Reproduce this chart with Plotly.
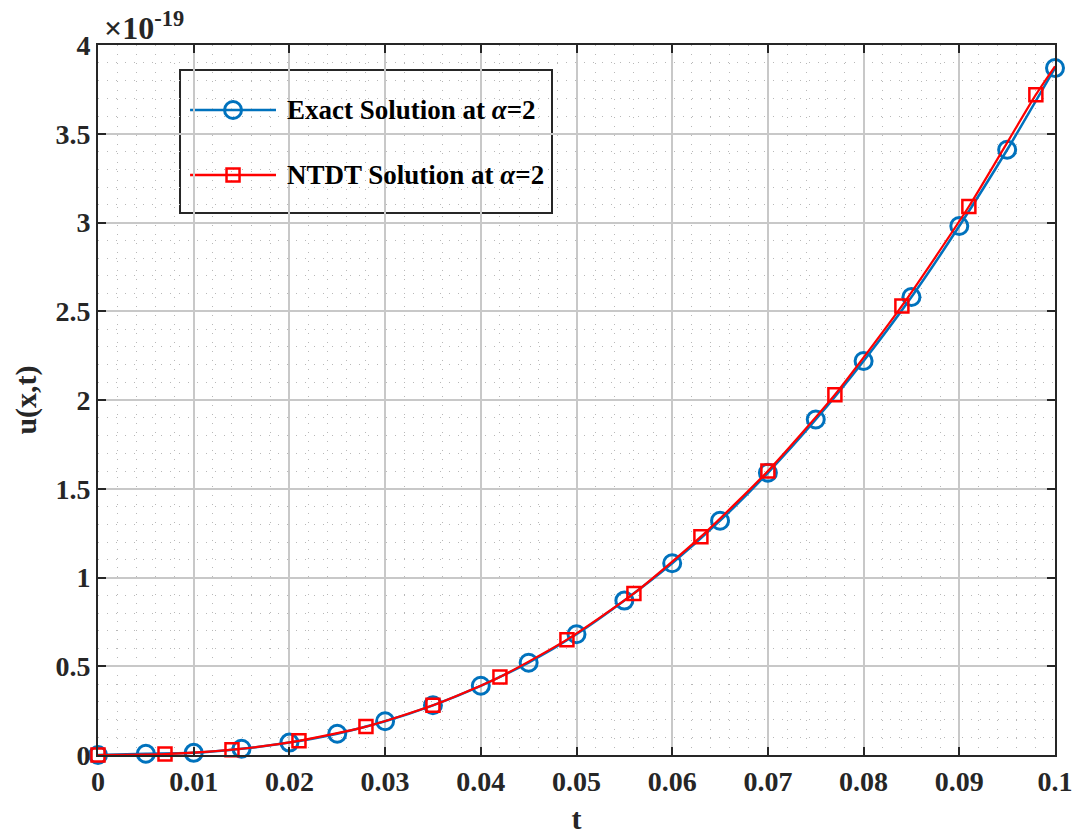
import plotly.graph_objects as go

# Exact solution samples (u in units of 1e-19)
t_exact = [0, 0.005, 0.01, 0.015, 0.02, 0.025, 0.03, 0.035, 0.04, 0.045, 0.05,
           0.055, 0.06, 0.065, 0.07, 0.075, 0.08, 0.085, 0.09, 0.095, 0.1]
u_exact = [0, 0.007, 0.012, 0.035, 0.07, 0.12, 0.19, 0.28, 0.39, 0.52, 0.68,
           0.87, 1.08, 1.32, 1.59, 1.89, 2.22, 2.58, 2.98, 3.41, 3.87]

# NTDT solution samples (u in units of 1e-19); the last point closes the curve at t=0.1
t_ntdt = [0, 0.007, 0.014, 0.021, 0.028, 0.035, 0.042, 0.049, 0.056, 0.063,
          0.070, 0.077, 0.084, 0.091, 0.098, 0.1]
u_ntdt = [0, 0.005, 0.03, 0.08, 0.16, 0.28, 0.44, 0.65, 0.91, 1.23,
          1.60, 2.03, 2.53, 3.09, 3.72, 3.88]

x_ticks = [0, 0.01, 0.02, 0.03, 0.04, 0.05, 0.06, 0.07, 0.08, 0.09, 0.1]
x_labels = ["0", "0.01", "0.02", "0.03", "0.04", "0.05", "0.06", "0.07", "0.08", "0.09", "0.1"]
y_ticks = [0, 0.5, 1, 1.5, 2, 2.5, 3, 3.5, 4]
y_labels = ["0", "0.5", "1", "1.5", "2", "2.5", "3", "3.5", "4"]

series_names = ["Exact Solution at <i>α</i>=2", "NTDT Solution at <i>α</i>=2"]

FONT = "Liberation Serif, Times New Roman, serif"
TXT = "#262626"
BLUE = "#0072BD"
RED = "#FF0000"

blue_marker = dict(symbol="circle-open", size=17, color=BLUE, opacity=1,
                   line=dict(width=3, color=BLUE))
red_marker = dict(symbol="square-open", size=13, color=RED, opacity=1,
                  line=dict(width=2.5, color=RED))

fig = go.Figure()

fig.add_trace(go.Scatter(
    x=t_exact, y=u_exact, mode="lines+markers", name=series_names[0],
    line=dict(color=BLUE, width=2.5, shape="spline", smoothing=0.6),
    marker=blue_marker, cliponaxis=False, showlegend=False,
))

# no marker on the closing point of the NTDT curve
red_sizes = [13] * (len(t_ntdt) - 1) + [0]
fig.add_trace(go.Scatter(
    x=t_ntdt, y=u_ntdt, mode="lines+markers", name=series_names[1],
    line=dict(color=RED, width=2.2, shape="spline", smoothing=0.6),
    marker=dict(red_marker, size=red_sizes), cliponaxis=False, showlegend=False,
))

axis_common = dict(
    showline=True, linecolor="#262626", linewidth=2, mirror="ticks",
    ticks="inside", ticklen=8, tickwidth=2, tickcolor="#262626",
    showgrid=True, gridcolor="#c8c8c8", gridwidth=2,
    zeroline=False, automargin=False,
    tickfont=dict(family=FONT, size=28, color=TXT, weight="bold"),
    title_font=dict(family=FONT, size=30, color=TXT, weight="bold"),
)
minor_grid = dict(showgrid=True, gridcolor="#b8b8b8", griddash="1px,8px", gridwidth=1)

fig.update_xaxes(
    range=[0, 0.1], tickvals=x_ticks, ticktext=x_labels,
    title_text="t", title_standoff=12,
    minor=dict(dtick=0.002, **minor_grid),
    **axis_common,
)
fig.update_yaxes(
    range=[0, 4], tickvals=y_ticks, ticktext=y_labels,
    title_text="u(x,t)", title_standoff=10,
    minor=dict(dtick=0.1, **minor_grid),
    **axis_common,
)

# Overlay axes spanning the plot area in [0, 1] units, used for the legend key markers
fig.update_layout(
    xaxis2=dict(overlaying="x", range=[0, 1], visible=False, showgrid=False),
    yaxis2=dict(overlaying="y", range=[0, 1], visible=False, showgrid=False),
)

# Legend box
box_x0, box_x1, box_y0, box_y1 = 0.0857, 0.4744, 0.7634, 0.9648
fig.add_shape(type="rect", xref="paper", yref="paper",
              x0=box_x0, x1=box_x1, y0=box_y0, y1=box_y1,
              fillcolor="white", line=dict(color="#262626", width=2), layer="between")

key_x0, key_x1, key_mid, text_x = 0.0962, 0.1860, 0.1411, 0.1954
key_rows = [0.9085, 0.8169]
key_colors = [BLUE, RED]
key_markers = [blue_marker, red_marker]
for name, row, color, mk in zip(series_names, key_rows, key_colors, key_markers):
    fig.add_shape(type="line", xref="paper", yref="paper",
                  x0=key_x0, x1=key_x1, y0=row, y1=row,
                  line=dict(color=color, width=2.5), layer="between")
    fig.add_trace(go.Scatter(
        x=[key_mid], y=[row], xaxis="x2", yaxis="y2", mode="markers",
        marker=mk, cliponaxis=False, showlegend=False, hoverinfo="skip",
    ))
    fig.add_annotation(
        xref="paper", yref="paper", x=text_x, y=row, xanchor="left", yanchor="middle",
        text="<b>" + name + "</b>", showarrow=False,
        font=dict(family=FONT, size=27, color="black"),
    )

# Exponent label of the y axis
fig.add_annotation(
    xref="paper", yref="paper", x=0.004, y=1.0, xanchor="left", yanchor="bottom",
    text="<b>×10<sup>-19</sup></b>", showarrow=False, yshift=-3,
    font=dict(family=FONT, size=32, color=TXT),
)

fig.update_layout(
    width=1078, height=837,
    margin=dict(l=98, r=23, t=45, b=82),
    paper_bgcolor="white", plot_bgcolor="white",
    showlegend=False,
)

fig.write_html("out.html")
